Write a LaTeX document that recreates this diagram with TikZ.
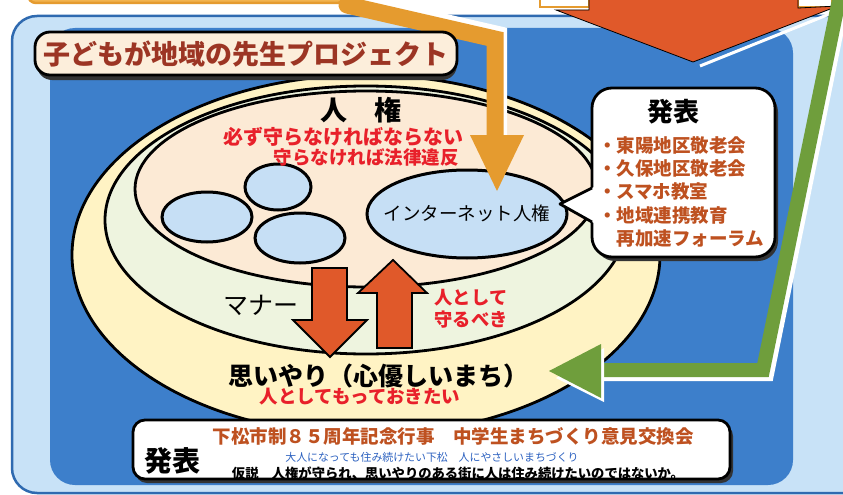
\documentclass[tikz,border=0pt]{standalone}
\usepackage{fontspec}
\newfontfamily\jp{Noto Sans CJK JP}
\usetikzlibrary{shapes.geometric}
\newcommand\fsz[1]{\fontsize{#1pt}{#1pt}\selectfont}
\definecolor{mainblue}{HTML}{3D7FCB}
\definecolor{lightblue}{HTML}{C8E2F7}
\definecolor{panelline}{HTML}{2F6AB0}
\definecolor{yellowfill}{HTML}{FFF3C4}
\definecolor{midfill}{HTML}{EEF4DF}
\definecolor{innerfill}{HTML}{FCEAD5}
\definecolor{ellblue}{HTML}{C6DFF5}
\definecolor{redarrow}{HTML}{E0592A}
\definecolor{orangeA}{HTML}{E59B2F}
\definecolor{greenA}{HTML}{6F9E3C}
\definecolor{titlefill}{HTML}{FCEEDB}
\definecolor{titletext}{HTML}{9C3524}
\definecolor{redtext}{HTML}{E8202A}
\definecolor{listtext}{HTML}{BE5120}
\definecolor{bluetext}{HTML}{2D62C0}
\definecolor{topfill}{HTML}{F2B450}
\begin{document}
\begin{tikzpicture}[x=1pt,y=-1pt,
  txt/.style={inner sep=0pt, outer sep=0pt},
  smallell/.style={ellipse, draw=black, line width=3pt, fill=ellblue, inner sep=0pt},
  ring/.style={draw=black, line width=2.8pt},
  redarr/.style={fill=redarrow, draw=black, line width=1.8pt, line join=miter},
  boxshadow/.style={fill=black!80},
  whitebox/.style={draw=black, line width=2.8pt, fill=white},
]
\useasboundingbox (0,0) rectangle (843,495);
\fill[white] (0,0) rectangle (843,495);

% pieces of the section above
\draw[draw=orangeA, line width=2.5pt, fill=topfill, rounded corners=8] (28,-30) rectangle (345,3);
\draw[draw=orangeA, line width=2pt, fill=white] (540,-10) rectangle (589,7);
\draw[draw=orangeA, line width=2pt, fill=white] (798,-10) rectangle (832,7);

% panel
\draw[draw=panelline, line width=2.5pt, fill=lightblue, rounded corners=25] (12,16) rectangle (900,493);
\fill[mainblue, rounded corners=25] (50,28) rectangle (793,485);

% big red arrow from above
\draw[white, line width=3pt] (842,9) -- (700,66);
\draw[fill=redarrow, draw=black, line width=0.8pt, line join=miter]
  (589,-3) -- (798,-3) -- (798,8) -- (838,6) -- (693,62) -- (556,10) -- (589,10) -- cycle;

% green arrow
\draw[white, line width=14pt, line join=miter] (845,-10) -- (767,374) -- (600,374);
\draw[greenA, line width=14pt, line join=miter] (841,-10) -- (763,370) -- (598,370);

% nested ellipses
\draw[ring, fill=yellowfill] (366,255) ellipse [x radius=294, y radius=180];
\draw[ring, fill=midfill] (366,220) ellipse [x radius=261, y radius=134];
\draw[ring, fill=innerfill] (366,189) ellipse [x radius=231, y radius=98];

% green arrow head (over yellow)
\fill[white] (604,348) -- (604,402) -- (556,378) -- cycle;
\fill[greenA] (601,344) -- (601,398) -- (549,371) -- cycle;

% small ellipses
\node[smallell, minimum width=90pt, minimum height=50pt] (e1) at (207,217) {};
\node[smallell, minimum width=66pt, minimum height=46pt] (e2) at (278,187) {};
\node[smallell, minimum width=90pt, minimum height=50pt] (e3) at (300,238) {};
\node[smallell, minimum width=200pt, minimum height=88pt] (net) at (467,214) {};
\node[txt] (nettext) at (467,213) {\jp\fsz{18.5}インターネット人権};

% callout 発表
\fill[boxshadow, rounded corners=20] (595,92) rectangle (778,261);
\draw[whitebox, rounded corners=20] (592,88) rectangle (775,257);
\fill[white] (594,187) -- (560,204) -- (594,223) -- cycle;
\draw[black, line width=2.8pt, line join=round] (592,188) -- (560,204) -- (592,222);
\node[txt] (hap1) at (673,112) {\jp\bfseries\fsz{26}発表};
\node[txt, anchor=west, text=listtext] (l1) at (598,146) {\jp\bfseries\fsz{18.5}・東陽地区敬老会};
\node[txt, anchor=west, text=listtext] (l2) at (598,169) {\jp\bfseries\fsz{18.5}・久保地区敬老会};
\node[txt, anchor=west, text=listtext] (l3) at (598,192) {\jp\bfseries\fsz{18.5}・スマホ教室};
\node[txt, anchor=west, text=listtext] (l4) at (598,215) {\jp\bfseries\fsz{18.5}・地域連携教育};
\node[txt, anchor=west, text=listtext] (l5) at (616.5,238) {\jp\bfseries\fsz{18.5}再加速フォーラム};

% texts in ellipses
\node[txt] (jinken) at (361,110) {\jp\bfseries\fsz{27}人　権};
\node[txt, text=redtext] (r1) at (343,137) {\jp\bfseries\fsz{20}必ず守らなければならない};
\node[txt, text=redtext] (r2) at (366,157) {\jp\bfseries\fsz{18.5}守らなければ法律違反};

% orange arrow from above
\draw[white, line width=18pt, line cap=round, line join=miter] (349,1) -- (498,35) -- (498,137);
\draw[orangeA, line width=17pt, line cap=round, line join=miter] (347,5) -- (495,39) -- (495,137);
\fill[orangeA] (470,135) -- (524,135) -- (497,191) -- cycle;

% title box
\fill[boxshadow, rounded corners=15] (37,37) rectangle (457,80);
\draw[draw=black, line width=2.8pt, fill=titlefill, rounded corners=15] (35,32) rectangle (457,75);
\node[txt, text=titletext] (title) at (246,54) {\jp\bfseries\fsz{27}子どもが地域の先生プロジェクト};

% up/down arrows
\draw[redarr] (312,268) -- (347,268) -- (347,320) -- (367,320) -- (330,357) -- (293,320) -- (312,320) -- cycle;
\draw[redarr] (377,348) -- (412,348) -- (412,293) -- (427,293) -- (393,260) -- (358,293) -- (377,293) -- cycle;
\node[txt] (manner) at (261,305) {\jp\fsz{25}マナー};
\node[txt, text=redtext] (h1) at (471,298) {\jp\bfseries\fsz{18.3}人として};
\node[txt, text=redtext] (h2) at (471,320) {\jp\bfseries\fsz{18.3}守るべき};
\node[txt] (omoi) at (378,375.5) {\jp\bfseries\fsz{25}思いやり（心優しいまち）};
\node[txt, text=redtext] (motte) at (360,397) {\jp\bfseries\fsz{18.5}人としてもっておきたい};

% bottom box
\fill[boxshadow, rounded corners=12] (135,424) rectangle (733,483);
\draw[whitebox, rounded corners=12] (133,420) rectangle (730,479);
\node[txt] (hap2) at (172,461) {\jp\bfseries\fsz{28}発表};
\node[txt, text=listtext] (b1) at (453,436) {\jp\bfseries\fsz{18.5}下松市制８５周年記念行事　中学生まちづくり意見交換会};
\node[txt, text=bluetext] (b2) at (432,457) {\jp\fsz{10.9}大人になっても住み続けたい下松　人にやさしいまちづくり};
\node[txt] (b3) at (458,473) {\jp\bfseries\fsz{13.3}仮説　人権が守られ、思いやりのある街に人は住み続けたいのではないか。};
\end{tikzpicture}
\end{document}
